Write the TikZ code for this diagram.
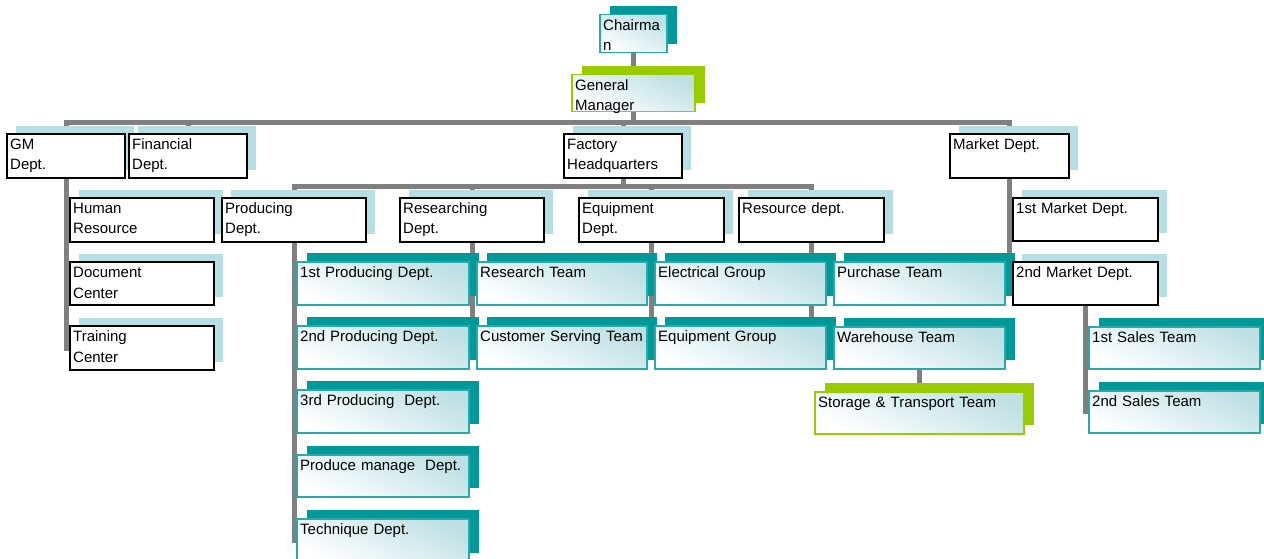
\documentclass[tikz,border=0pt]{standalone}
\usepackage{fontspec}
\setmainfont{Liberation Sans}
\pgfdeclarelayer{conn}
\pgfdeclarelayer{shad}
\pgfsetlayers{conn,shad,main}
\definecolor{cLb}{RGB}{183,222,226}
\definecolor{cTeal}{RGB}{0,153,153}
\definecolor{cTealB}{RGB}{40,170,170}
\definecolor{cLime}{RGB}{153,204,0}
\definecolor{cGray}{RGB}{128,128,128}
\definecolor{cFill}{RGB}{190,224,228}
\tikzset{
  bksh/.style={fill=cLb, xshift=10pt, yshift=7pt},
  bkfr/.style={draw=black, line width=2pt, fill=white, anchor=north west, inner sep=0pt},
  tlsh/.style={fill=cTeal, xshift=11pt, yshift=8pt},
  tlfr/.style={draw=cTealB, line width=1.5pt, top color=cFill, bottom color=white, shading angle=-25, anchor=north west, inner sep=0pt},
  lmsh/.style={fill=cLime, xshift=11pt, yshift=8pt},
  lmfr/.style={draw=cLime, line width=1.5pt, top color=cFill, bottom color=white, shading angle=-25, anchor=north west, inner sep=0pt},
  txt/.style={font=\fontsize{15}{20.5}\selectfont, inner sep=0pt, text width=220pt, align=left, anchor=base west},
  conn/.style={draw=cGray, line width=5pt}
}
% name, kind, x, y, w, h, text
\newcommand\obox[7]{%
  \begin{pgfonlayer}{shad}\fill[#2sh] (#3,#4) rectangle ++(#5,#6);\end{pgfonlayer}
  \node[#2fr, minimum width=#5pt, minimum height=#6pt] (#1) at (#3,#4) {};
  \node[txt] (#1t) at ([xshift=4pt,yshift=-16.5pt]#1.north west) {#7};
}
\begin{document}
\begin{tikzpicture}[x=1pt,y=-1pt]
\useasboundingbox (0,0) rectangle (1264,559);
% top
\obox{chair}{tl}{599}{14}{67}{38}{Chairma\\n}
\obox{gmgr}{lm}{571}{74}{123}{37}{General\\Manager}
% level 1
\obox{gmd}{bk}{6}{133}{118}{44}{GM\\Dept.}
\obox{fin}{bk}{128}{133}{118}{44}{Financial\\Dept.}
\obox{fh}{bk}{563}{133}{118}{44}{Factory\\Headquarters}
\obox{mkt}{bk}{949}{133}{119}{44}{Market Dept.}
% level 2
\obox{hr}{bk}{69}{197}{144}{44}{Human\\Resource}
\obox{dc}{bk}{69}{261}{144}{43}{Document\\Center}
\obox{tc}{bk}{69}{325}{144}{44}{Training\\Center}
\obox{prod}{bk}{221}{197}{144}{44}{Producing\\Dept.}
\obox{rsch}{bk}{399}{197}{144}{44}{Researching\\Dept.}
\obox{eqd}{bk}{578}{197}{145}{44}{Equipment\\Dept.}
\obox{res}{bk}{738}{197}{145}{44}{Resource dept.}
\obox{ma}{bk}{1012}{197}{145}{43}{1st Market Dept.}
\obox{mb}{bk}{1012}{261}{145}{43}{2nd Market Dept.}
% teams
\obox{pa}{tl}{296}{261}{172}{43}{1st Producing Dept.}
\obox{pb}{tl}{296}{325}{172}{43}{2nd Producing Dept.}
\obox{pc}{tl}{296}{389}{172}{43}{3rd Producing\ \ Dept.}
\obox{pd}{tl}{296}{454}{172}{42}{Produce manage\ \ Dept.}
\obox{pe}{tl}{296}{518}{172}{43}{Technique Dept.}
\obox{ra}{tl}{476}{261}{170}{43}{Research Team}
\obox{rb}{tl}{476}{325}{170}{43}{Customer Serving Team}
\obox{ea}{tl}{654}{261}{171}{43}{Electrical Group}
\obox{eb}{tl}{654}{325}{171}{43}{Equipment Group}
\obox{pur}{tl}{833}{261}{171}{43}{Purchase Team}
\obox{wh}{tl}{833}{326}{171}{42}{Warehouse Team}
\obox{st}{lm}{814}{391}{209}{42}{Storage \& Transport Team}
\obox{sa}{tl}{1088}{326}{171}{42}{1st Sales Team}
\obox{sb}{tl}{1088}{390}{171}{42}{2nd Sales Team}
% connectors
\coordinate (bar1) at (0,122.5);
\coordinate (bar2) at (0,186.5);
\begin{pgfonlayer}{conn}
\draw[conn] (chair.south) -- (gmgr.north);
\draw[conn] (gmgr.south) -- (gmgr.south |- bar1);
\draw[conn] (gmd.north) -- (gmd.north |- bar1) -- (mkt.north |- bar1) -- (mkt.north);
\draw[conn] (fin.north) -- (fin.north |- bar1);
\draw[conn] (fh.north) -- (fh.north |- bar1);
\draw[conn] (fh.south) -- (fh.south |- bar2);
\draw[conn] (prod.north) -- (prod.north |- bar2) -- (res.north |- bar2) -- (res.north);
\draw[conn] (rsch.north) -- (rsch.north |- bar2);
\draw[conn] (eqd.north) -- (eqd.north |- bar2);
\draw[conn] (gmd.south) |- (hr.west);
\draw[conn] (gmd.south) |- (dc.west);
\draw[conn] (gmd.south) |- (tc.west);
\draw[conn] (prod.south) |- (pa.west);
\draw[conn] (prod.south) |- (pb.west);
\draw[conn] (prod.south) |- (pc.west);
\draw[conn] (prod.south) |- (pd.west);
\draw[conn] (prod.south) |- (pe.west);
\draw[conn] (rsch.south) |- (ra.west);
\draw[conn] (rsch.south) |- (rb.west);
\draw[conn] (eqd.south) |- (ea.west);
\draw[conn] (eqd.south) |- (eb.west);
\draw[conn] (res.south) |- (pur.west);
\draw[conn] (res.south) |- (wh.west);
\draw[conn] (wh.south) -- (st.north);
\draw[conn] (mkt.south) |- (ma.west);
\draw[conn] (mkt.south) |- (mb.west);
\draw[conn] (mb.south) |- (sa.west);
\draw[conn] (mb.south) |- (sb.west);
\end{pgfonlayer}
\end{tikzpicture}
\end{document}
